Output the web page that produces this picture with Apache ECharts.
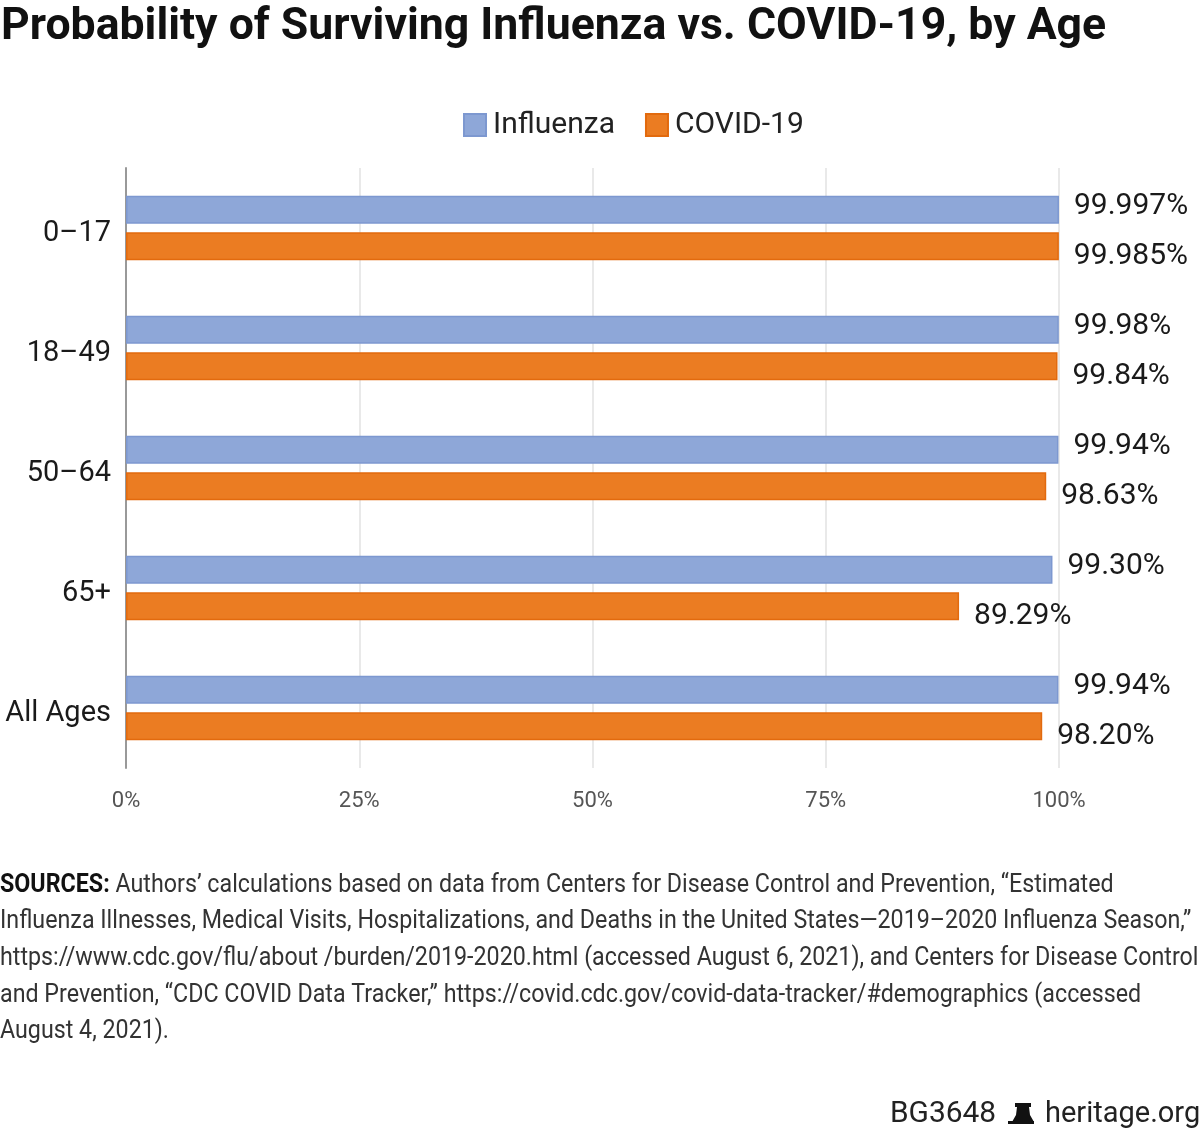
<!DOCTYPE html>
<html>
<head>
<meta charset="utf-8">
<script src="https://cdn.jsdelivr.net/npm/echarts@6/dist/echarts.min.js"></script>
<style>
html, body { margin: 0; padding: 0; background: #fff; }
#chart { width: 1200px; height: 1129px; }
</style>
</head>
<body>
<div id="chart"></div>
<script>
var ageGroups = ['0–17', '18–49', '50–64', '65+', 'All Ages'];
var influenza = [99.997, 99.98, 99.94, 99.30, 99.94];
var covid = [99.985, 99.84, 98.63, 89.29, 98.20];
var fluLabels = ['99.997%', '99.98%', '99.94%', '99.30%', '99.94%'];
var covidLabels = ['99.985%', '99.84%', '98.63%', '89.29%', '98.20%'];
var xTicks = [0, 25, 50, 75, 100];
var sourceLines = [
    'Authors’ calculations based on data from Centers for Disease Control and Prevention, “Estimated',
    'Influenza Illnesses, Medical Visits, Hospitalizations, and Deaths in the United States—2019–2020 Influenza Season,”',
    'https://www.cdc.gov/flu/about /burden/2019-2020.html (accessed August 6, 2021), and Centers for Disease Control',
    'and Prevention, “CDC COVID Data Tracker,” https://covid.cdc.gov/covid-data-tracker/#demographics (accessed',
    'August 4, 2021).'
];

var font = "Roboto, sans-serif";
var dom = document.getElementById('chart');
var myChart = echarts.init(dom);

// source note, one text per line, squeezed a bit to match the condensed original
var graphics = [];
for (var i = 0; i < sourceLines.length; i++) {
    graphics.push({
        type: 'text',
        x: 0,
        y: 873 + i * 36.6,
        scaleX: 0.93,
        style: {
            text: (i === 0 ? '{b|SOURCES:} ' : '') + sourceLines[i],
            fontSize: 25,
            fontFamily: font,
            fill: '#333',
            rich: {
                b: { fontWeight: 'bold', fontSize: 25, fontFamily: font, fill: '#111' }
            }
        }
    });
}
graphics.push({
    type: 'text',
    x: 890,
    y: 1100,
    scaleX: 1.03,
    style: { text: 'BG3648', fontSize: 29, fontFamily: font, fill: '#222' }
});
// small bell mark
graphics.push({
    type: 'polygon',
    x: 1012,
    y: 1103,
    shape: { points: [[3, 0], [19, 0], [19, 4], [17, 4], [18, 12], [22, 19], [0, 19], [4, 12], [5, 4], [3, 4]] },
    style: { fill: '#111' }
});
graphics.push({
    type: 'rect',
    x: 1008,
    y: 1121,
    shape: { width: 26, height: 3 },
    style: { fill: '#111' }
});
graphics.push({
    type: 'text',
    x: 1045,
    y: 1100,
    scaleX: 1.0,
    style: { text: 'heritage.org', fontSize: 29, fontFamily: font, fill: '#222' }
});

var option = {
    backgroundColor: '#fff',
    textStyle: { fontFamily: font },
    title: {
        text: 'Probability of Surviving Influenza vs. COVID-19, by Age',
        left: -4,
        top: 0,
        textStyle: { fontSize: 44.6, fontWeight: 'bold', color: '#111', fontFamily: font }
    },
    legend: {
        left: 458,
        top: 105,
        itemWidth: 22,
        itemHeight: 22,
        itemGap: 30,
        icon: 'rect',
        textStyle: { fontSize: 30, color: '#222', fontFamily: font, padding: [0, 0, 0, 2] },
        data: ['Influenza', 'COVID-19']
    },
    grid: { left: 126, right: 141, top: 168, height: 600, containLabel: false },
    xAxis: {
        type: 'value',
        min: xTicks[0],
        max: xTicks[xTicks.length - 1],
        interval: 25,
        axisLine: { show: false },
        axisTick: { show: false },
        splitLine: { lineStyle: { color: '#e2e2e2', width: 1.5 } },
        axisLabel: { formatter: '{value}%', fontSize: 22, color: '#555', margin: 22, fontFamily: font }
    },
    yAxis: {
        type: 'category',
        inverse: true,
        data: ageGroups,
        axisLine: { lineStyle: { color: '#999', width: 2 } },
        axisTick: { show: false },
        axisLabel: {
            margin: 15,
            formatter: function (v) { return '{a|' + v + '}'; },
            rich: {
                a: { fontSize: 29, color: '#1a1a1a', fontFamily: font, padding: [12, 0, 0, 0] }
            }
        }
    },
    series: [
        {
            name: 'Influenza',
            type: 'bar',
            data: influenza,
            barWidth: 28,
            barGap: '30%',
            itemStyle: { color: '#8EA7D8', borderColor: '#7D98D0', borderWidth: 1.5 },
            label: {
                show: true,
                position: 'right',
                distance: 15,
                offset: [0, -3],
                fontSize: 30,
                color: '#1a1a1a',
                fontFamily: font,
                formatter: function (p) { return fluLabels[p.dataIndex]; }
            }
        },
        {
            name: 'COVID-19',
            type: 'bar',
            data: covid,
            barWidth: 28,
            itemStyle: { color: '#EB7C22', borderColor: '#E26A0E', borderWidth: 1.5 },
            label: {
                show: true,
                position: 'right',
                distance: 15,
                offset: [0, 10],
                fontSize: 30,
                color: '#1a1a1a',
                fontFamily: font,
                formatter: function (p) { return covidLabels[p.dataIndex]; }
            }
        }
    ],
    graphic: graphics
};
myChart.setOption(option);
</script>
</body>
</html>
